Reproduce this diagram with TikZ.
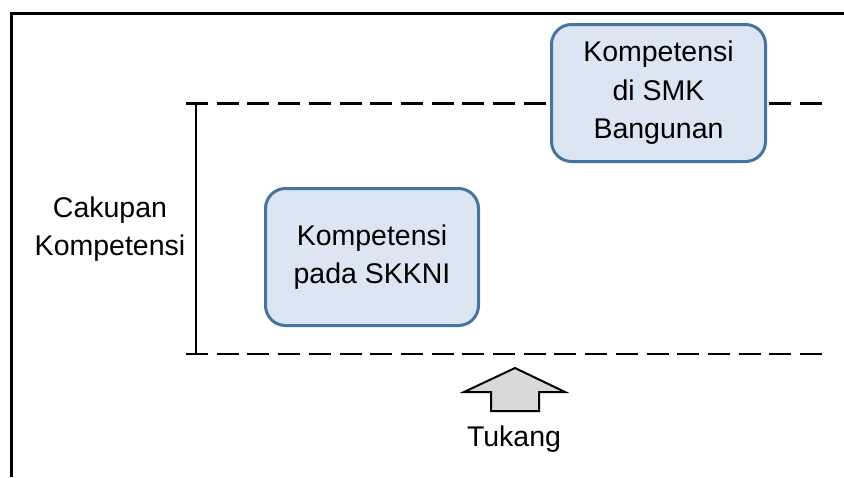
\documentclass[tikz,border=0pt]{standalone}
\usepackage{fontspec}
\setmainfont{Liberation Sans}
\definecolor{boxline}{RGB}{70,115,160}
\definecolor{boxfill}{RGB}{220,230,242}
\definecolor{arrowfill}{RGB}{217,217,217}
\begin{document}
\begin{tikzpicture}[x=1pt,y=-1pt,
  txt/.style={font=\fontsize{28.5}{38.5}\selectfont, align=center, inner sep=0pt},
  compbox/.style={txt, draw=boxline, fill=boxfill, line width=3pt, rounded corners=20pt},
  levelline/.style={line width=2.5pt, dash pattern=on 22pt off 8.7pt},
  frameline/.style={line width=3.2pt}]
\useasboundingbox (0,0) rectangle (844,477);
% frame
\coordinate (fl) at (11.7,477);
\coordinate (fc) at (11.7,13.5);
\coordinate (fr) at (844,13.5);
\draw[frameline] (fl) -- (fc) -- (fr);
% level lines
\coordinate (tl) at (186,103.5);
\coordinate (tr) at (822,103.5);
\coordinate (bl) at (186,354);
\coordinate (br) at (822,354);
\coordinate (vt) at (196,103.5);
\coordinate (vb) at (196,354);
\draw[levelline] (tl) -- (tr);
\draw[levelline] (bl) -- (br);
\draw[line width=2.5pt] (vt) -- (vb);
% boxes
\node[compbox, minimum width=214pt, minimum height=137pt] (smk) at (658.5,93) {Kompetensi\\di SMK\\Bangunan};
\node[compbox, minimum width=213pt, minimum height=137pt] (skkni) at (372,257) {Kompetensi\\pada SKKNI};
% label
\node[txt] (cakupan) at (110,229) {Cakupan\\Kompetensi};
% arrow
\draw[fill=arrowfill, line width=2pt, line join=miter]
  (515,368) -- (565,392) -- (539,392) -- (539,411) -- (491,411) -- (491,392) -- (464,392) -- cycle;
\node[txt, anchor=base] (tukang) at (514,446) {Tukang};
\end{tikzpicture}
\end{document}
